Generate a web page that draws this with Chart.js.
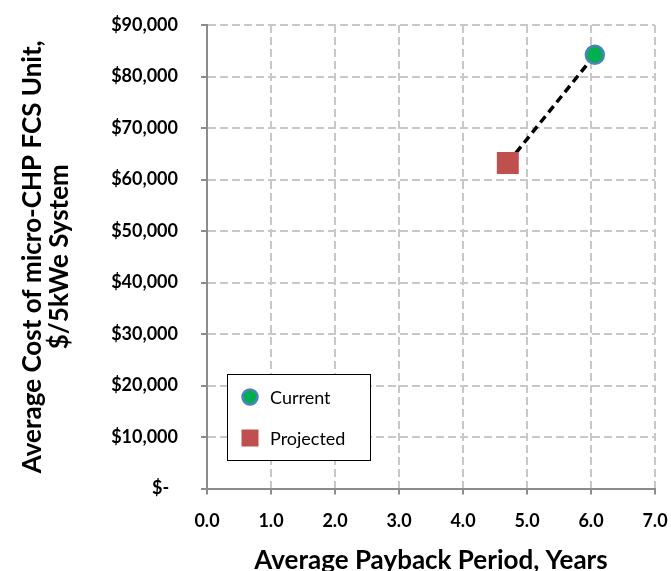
<!DOCTYPE html>
<html><head><meta charset="utf-8">
<script src="https://cdn.jsdelivr.net/npm/chart.js@4.4.0/dist/chart.umd.min.js"></script>
<style>html,body{margin:0;padding:0;background:#fff}#wrap{width:671px;height:571px}</style>
</head><body><div id="wrap"><canvas id="c" width="671" height="571"></canvas></div>
<script>
const seriesNames = ['Current', 'Projected'];
const currentPoint = [{x: 6.06, y: 84200}];
const projectedPoint = [{x: 4.70, y: 63200}];
const xTicks = [0, 1, 2, 3, 4, 5, 6, 7];
const yTicks = [0, 10000, 20000, 30000, 40000, 50000, 60000, 70000, 80000, 90000];
const xTitle = 'Average Payback Period, Years';
const yTitle = ['Average Cost of micro-CHP FCS Unit,', '$/5kWe System'];

const FONT = 'Lato, "Open Sans", sans-serif';
const gridCommon = {color: '#c8c8c8', lineWidth: 2, tickColor: '#8c8c8c', tickWidth: 2, tickLength: 6, tickBorderDash: []};

const legendPlugin = {
  id: 'innerLegend',
  afterDraw(chart) {
    const ctx = chart.ctx;
    const x0 = 227, y0 = 374, w = 143, h = 86;
    ctx.save();
    ctx.fillStyle = '#fff';
    ctx.fillRect(x0, y0, w, h);
    ctx.strokeStyle = '#000'; ctx.lineWidth = 1;
    ctx.strokeRect(x0 + 0.5, y0 + 0.5, w, h);
    ctx.font = '18px ' + FONT;
    ctx.textBaseline = 'middle';
    const items = [chart.data.datasets[1], chart.data.datasets[2]];
    items.forEach((ds, i) => {
      const cy = y0 + 23 + i * 41;
      const cx = x0 + 23;
      ctx.fillStyle = ds.backgroundColor;
      ctx.strokeStyle = ds.borderColor;
      ctx.lineWidth = ds.borderWidth;
      if (ds.pointStyle === 'circle') {
        ctx.beginPath(); ctx.arc(cx, cy, 7.5, 0, Math.PI * 2); ctx.fill(); ctx.stroke();
      } else {
        ctx.fillRect(cx - 8.5, cy - 8.5, 17, 17);
      }
      ctx.fillStyle = '#000';
      ctx.fillText(ds.label, x0 + 43, cy + 1);
    });
    ctx.restore();
  }
};

new Chart(document.getElementById('c'), {
  type: 'scatter',
  data: {
    datasets: [
      {label: 'link', data: [projectedPoint[0], currentPoint[0]], showLine: true, borderColor: '#000', borderWidth: 3.5, borderDash: [8, 5], pointRadius: 0, order: 3},
      {label: seriesNames[0], data: currentPoint, pointStyle: 'circle', pointRadius: 9, backgroundColor: '#00b050', borderColor: '#4f81bd', borderWidth: 2.5, order: 1},
      {label: seriesNames[1], data: projectedPoint, pointStyle: 'rect', pointRadius: 15.5, backgroundColor: '#c0504d', borderColor: '#c0504d', borderWidth: 0, order: 2}
    ]
  },
  options: {
    responsive: false,
    animation: false,
    devicePixelRatio: 1,
    layout: {padding: {top: 25, right: 16, left: 0, bottom: 0}},
    plugins: {legend: {display: false}, tooltip: {enabled: false}},
    scales: {
      x: {
        type: 'linear', min: 0, max: 7,
        afterBuildTicks(s) { s.ticks = xTicks.map(v => ({value: v})); },
        afterFit(s) { s.height = 82.5; },
        grid: gridCommon,
        border: {display: true, color: '#8c8c8c', width: 2, dash: [8, 4]},
        ticks: {font: {family: FONT, size: 18, weight: 'bold', lineHeight: 2.83}, color: '#000', padding: 1, maxRotation: 0, callback: v => Number(v).toFixed(1)},
        title: {display: true, text: xTitle, font: {family: FONT, size: 26, weight: 'bold', lineHeight: 0.8}, color: '#000', padding: {top: 0, bottom: 0}}
      },
      y: {
        type: 'linear', min: 0, max: 90000,
        afterBuildTicks(s) { s.ticks = yTicks.map(v => ({value: v})); },
        afterFit(s) { s.width = 207; },
        grid: gridCommon,
        border: {display: true, color: '#8c8c8c', width: 2, dash: [8, 4]},
        ticks: {font: {family: FONT, size: 18, weight: 'bold', lineHeight: 0.2}, color: '#000', padding: 23,
          callback: v => v === 0 ? '$-  ' : '$' + Number(v).toLocaleString('en-US')},
        title: {display: true, text: yTitle, font: {family: FONT, size: 26, weight: 'bold', lineHeight: 1.04}, color: '#000', padding: {top: 19.5, bottom: 0}}
      }
    }
  },
  plugins: [legendPlugin]
});
</script></body></html>
